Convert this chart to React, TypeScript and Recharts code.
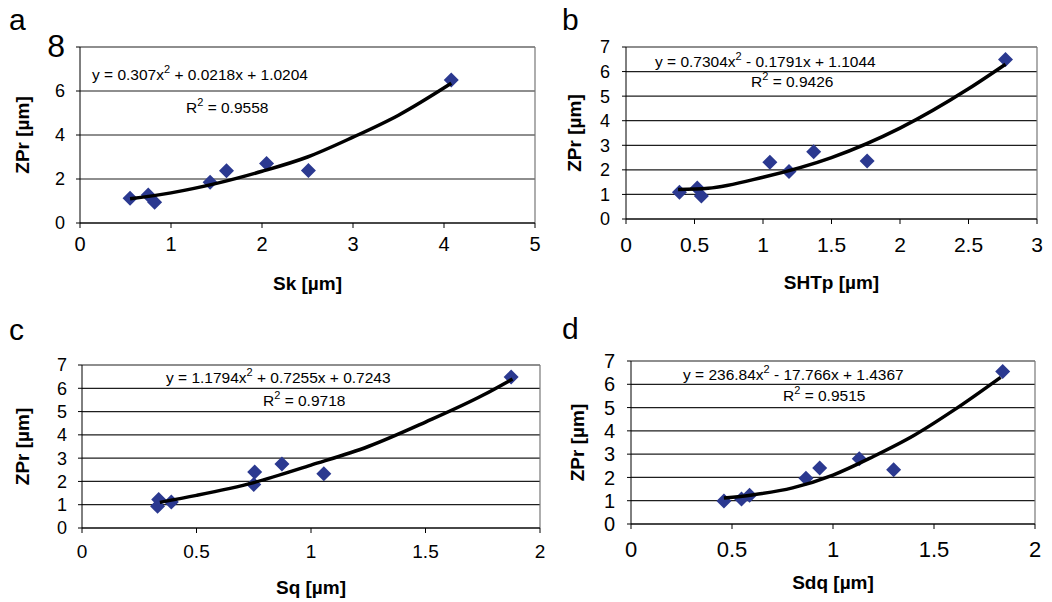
import { ScatterChart, Scatter, XAxis, YAxis, CartesianGrid, ReferenceLine } from 'recharts';

const skValues = [0.55, 0.75, 0.82, 1.43, 1.61, 2.05, 2.51, 4.08];
const zprSk = [1.12, 1.27, 0.94, 1.85, 2.38, 2.71, 2.39, 6.5];
const skTrendX = [0.55, 1, 1.5, 2, 2.5, 3, 3.5, 4.08];
const skTrendY = [1.1, 1.37, 1.8, 2.35, 3.0, 3.9, 4.9, 6.35];

const shtpValues = [0.39, 0.52, 0.55, 1.05, 1.19, 1.37, 1.76, 2.77];
const zprShtp = [1.09, 1.26, 0.94, 2.31, 1.93, 2.74, 2.36, 6.49];
const shtpTrendX = [0.38, 0.6, 1, 1.5, 2, 2.5, 2.77];
const shtpTrendY = [1.2, 1.25, 1.7, 2.5, 3.7, 5.3, 6.3];

const sqValues = [0.33, 0.335, 0.39, 0.75, 0.754, 0.873, 1.056, 1.874];
const zprSq = [0.93, 1.22, 1.12, 1.87, 2.4, 2.75, 2.33, 6.48];
const sqTrendX = [0.34, 0.5, 0.75, 1, 1.25, 1.5, 1.75, 1.88];
const sqTrendY = [1.1, 1.4, 1.95, 2.7, 3.5, 4.55, 5.7, 6.4];

const sdqValues = [0.46, 0.547, 0.587, 0.866, 0.934, 1.13, 1.3, 1.84];
const zprSdq = [0.99, 1.07, 1.24, 1.97, 2.4, 2.8, 2.33, 6.55];
const sdqTrendX = [0.46, 0.6, 0.8, 1, 1.2, 1.4, 1.6, 1.83];
const sdqTrendY = [1.12, 1.25, 1.55, 2.1, 2.9, 3.8, 4.9, 6.3];

const ticksA = [0, 1, 2, 3, 4, 5];
const ticksB = [0, 0.5, 1, 1.5, 2, 2.5, 3];
const ticksCD = [0, 0.5, 1, 1.5, 2];
const yTicks8 = [0, 2, 4, 6, 8];
const yTicks7 = [0, 1, 2, 3, 4, 5, 6, 7];

const FONT = '"Liberation Sans", Arial, sans-serif';
const MARKER = '#2B3990';

const zip = (xs: number[], ys: number[]) => xs.map((x, i) => ({ x, y: ys[i] }));

const Diamond = (props: any) => {
  const { cx, cy } = props;
  if (cx == null || cy == null) return null;
  const r = 7.5;
  return (
    <polygon
      points={`${cx},${cy - r} ${cx + r},${cy} ${cx},${cy + r} ${cx - r},${cy}`}
      fill={MARKER}
    />
  );
};

const NoDot = () => <g />;

interface PanelProps {
  left: number;
  top: number;
  width: number;
  height: number;
  margin: { top: number; right: number; left: number; bottom: number };
  yWidth: number;
  xHeight: number;
  xMax: number;
  yMax: number;
  xTicks: number[];
  yTicks: number[];
  xFont: number;
  yFont: number;
  xTickMargin: number;
  yTickMargin: number;
  xLabel: string;
  xLabelOffset: number;
  yLabelOffset: number;
  points: { x: number; y: number }[];
  trend: { x: number; y: number }[];
  bigTop?: boolean;
}

function Panel(p: PanelProps) {
  const yTick = (t: any) => {
    const big = p.bigTop && t.payload.value === p.yMax;
    return (
      <text
        x={t.x}
        y={t.y}
        dy={big ? '0.32em' : '0.355em'}
        textAnchor="end"
        fontSize={big ? 32 : p.yFont}
        fontFamily={FONT}
        fill="#000"
      >
        {t.payload.value}
      </text>
    );
  };

  return (
    <div style={{ position: 'absolute', left: p.left, top: p.top }}>
      <ScatterChart width={p.width} height={p.height} margin={p.margin}>
        <CartesianGrid vertical={false} stroke="#1e1e1e" strokeWidth={1.2} />
        <XAxis
          type="number"
          dataKey="x"
          domain={[0, p.xMax]}
          ticks={p.xTicks}
          height={p.xHeight}
          tickSize={5}
          tickMargin={p.xTickMargin}
          stroke="#000"
          tick={{ fontSize: p.xFont, fontFamily: FONT, fill: '#000' }}
          label={{
            value: p.xLabel,
            position: 'insideBottom',
            offset: p.xLabelOffset,
            style: { fontSize: 19, fontWeight: 'bold', fontFamily: FONT, fill: '#000' },
          }}
        />
        <YAxis
          type="number"
          dataKey="y"
          domain={[0, p.yMax]}
          ticks={p.yTicks}
          width={p.yWidth}
          tickSize={4}
          tickMargin={p.yTickMargin}
          stroke="#000"
          tick={yTick}
          label={{
            value: 'ZPr [µm]',
            angle: -90,
            position: 'insideLeft',
            offset: p.yLabelOffset,
            style: { fontSize: 19, fontWeight: 'bold', fontFamily: FONT, fill: '#000', textAnchor: 'middle' },
          }}
        />
        <ReferenceLine x={p.xMax} stroke="#777" strokeWidth={1.2} />
        <Scatter data={p.points} shape={Diamond} isAnimationActive={false} />
        <Scatter
          data={p.trend}
          shape={NoDot}
          line={{ stroke: '#000', strokeWidth: 3.5 }}
          lineJointType="monotoneX"
          isAnimationActive={false}
        />
      </ScatterChart>
    </div>
  );
}

const Eq = ({ x, y, a, b }: { x: number; y: number; a: string; b: string }) => (
  <text x={x} y={y} fontSize={15.5} fontFamily={FONT} fill="#000">
    {a}
    <tspan dy={-7} fontSize={11}>2</tspan>
    <tspan dy={7}>{b}</tspan>
  </text>
);

export default function App() {
  return (
    <div style={{ position: 'absolute', left: 0, top: 0, width: 1052, height: 602, background: '#fff', fontFamily: FONT }}>
      <Panel
        left={0} top={0} width={545} height={300}
        margin={{ top: 47, right: 10, left: 0, bottom: 0 }}
        yWidth={80} xHeight={77} xMax={5} yMax={8}
        xTicks={ticksA} yTicks={yTicks8}
        xFont={20} yFont={18} xTickMargin={9} yTickMargin={11}
        xLabel="Sk [µm]" xLabelOffset={10} yLabelOffset={22}
        points={zip(skValues, zprSk)} trend={zip(skTrendX, skTrendY)} bigTop
      />
      <Panel
        left={526} top={0} width={526} height={300}
        margin={{ top: 47, right: 15, left: 0, bottom: 0 }}
        yWidth={100} xHeight={81} xMax={3} yMax={7}
        xTicks={ticksB} yTicks={yTicks7}
        xFont={21} yFont={18} xTickMargin={13} yTickMargin={12}
        xLabel="SHTp [µm]" xLabelOffset={11} yLabelOffset={48}
        points={zip(shtpValues, zprShtp)} trend={zip(shtpTrendX, shtpTrendY)}
      />
      <Panel
        left={0} top={300} width={545} height={302}
        margin={{ top: 65, right: 5, left: 0, bottom: 0 }}
        yWidth={82} xHeight={74} xMax={2} yMax={7}
        xTicks={ticksCD} yTicks={yTicks7}
        xFont={19} yFont={18} xTickMargin={12} yTickMargin={11}
        xLabel="Sq [µm]" xLabelOffset={8} yLabelOffset={22}
        points={zip(sqValues, zprSq)} trend={zip(sqTrendX, sqTrendY)}
      />
      <Panel
        left={526} top={300} width={526} height={302}
        margin={{ top: 61, right: 17, left: 0, bottom: 0 }}
        yWidth={105} xHeight={78} xMax={2} yMax={7}
        xTicks={ticksCD} yTicks={yTicks7}
        xFont={22} yFont={20} xTickMargin={12} yTickMargin={12}
        xLabel="Sdq [µm]" xLabelOffset={13} yLabelOffset={51}
        points={zip(sdqValues, zprSdq)} trend={zip(sdqTrendX, sdqTrendY)}
      />
      <svg width={1052} height={602} style={{ position: 'absolute', left: 0, top: 0, pointerEvents: 'none' }}>
        <text x={9} y={30} fontSize={30} fontFamily={FONT}>a</text>
        <text x={562} y={30} fontSize={30} fontFamily={FONT}>b</text>
        <text x={9} y={340} fontSize={30} fontFamily={FONT}>c</text>
        <text x={562} y={339} fontSize={30} fontFamily={FONT}>d</text>
        <Eq x={92} y={80} a="y = 0.307x" b=" + 0.0218x + 1.0204" />
        <Eq x={186} y={113} a="R" b=" = 0.9558" />
        <Eq x={655} y={67} a="y = 0.7304x" b=" - 0.1791x + 1.1044" />
        <Eq x={751} y={87} a="R" b=" = 0.9426" />
        <Eq x={166} y={383} a="y = 1.1794x" b=" + 0.7255x + 0.7243" />
        <Eq x={263} y={406} a="R" b=" = 0.9718" />
        <Eq x={683} y={380} a="y = 236.84x" b=" - 17.766x + 1.4367" />
        <Eq x={783} y={401} a="R" b=" = 0.9515" />
      </svg>
    </div>
  );
}
